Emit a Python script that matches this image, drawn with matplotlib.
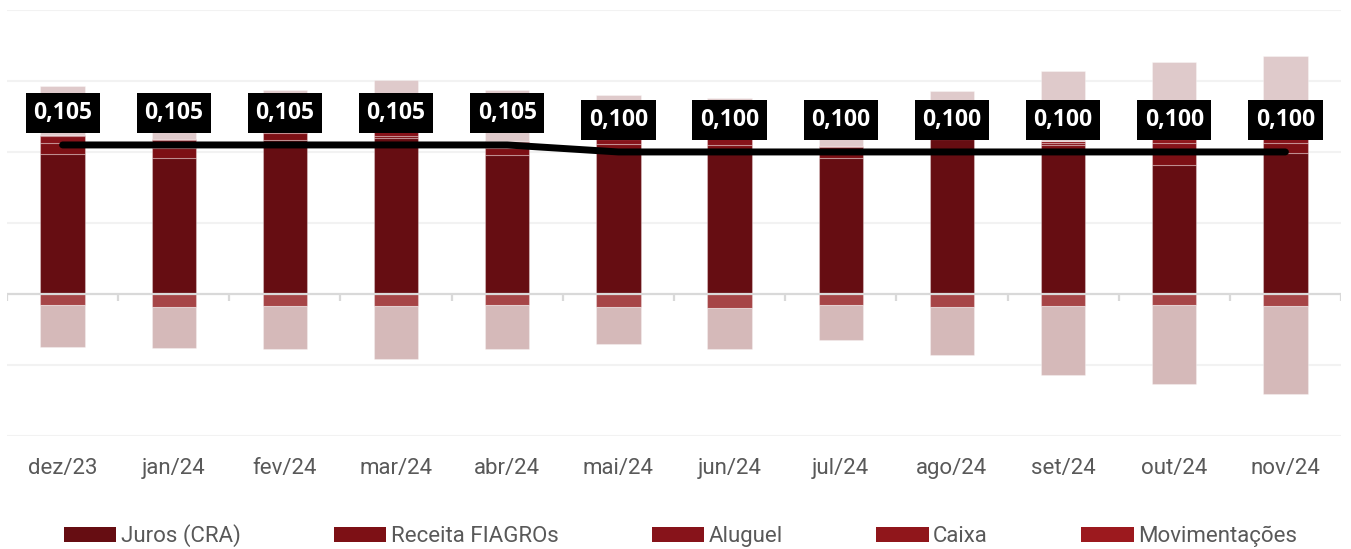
import matplotlib
matplotlib.use('Agg')
import matplotlib.pyplot as plt
from matplotlib.patches import Patch
import numpy as np

plt.rcParams['font.family'] = ['Roboto', 'DejaVu Sans']

months = ['dez/23', 'jan/24', 'fev/24', 'mar/24', 'abr/24', 'mai/24',
          'jun/24', 'jul/24', 'ago/24', 'set/24', 'out/24', 'nov/24']

# positive stack
juros = [1.97, 1.92, 2.17, 2.20, 1.96, 2.03, 2.03, 1.92, 2.18, 2.03, 1.82, 1.99]
receita_fiagros = [0.15, 0.14, 0.10, 0.03, 0.10, 0.08, 0.07, 0.15, 0.01, 0.07, 0.20, 0.13]
aluguel = [0.11, 0.11, 0.03, 0.07, 0.08, 0.07, 0.10, 0.00, 0.01, 0.03, 0.11, 0.08]
caixa = [0.01, 0.01, 0.01, 0.01, 0.01, 0.01, 0.01, 0.01, 0.01, 0.03, 0.05, 0.02]
movimentacoes = [0.00, 0.00, 0.00, 0.00, 0.00, 0.00, 0.00, 0.00, 0.00, 0.00, 0.00, 0.00]
outras_receitas = [0.69, 0.55, 0.56, 0.70, 0.72, 0.61, 0.55, 0.65, 0.65, 0.98, 1.09, 1.13]

# negative stack
despesa_1 = [-0.155, -0.183, -0.169, -0.169, -0.155, -0.183, -0.197, -0.155, -0.183, -0.169, -0.155, -0.169]
despesa_2 = [-0.59, -0.58, -0.61, -0.75, -0.62, -0.52, -0.58, -0.49, -0.68, -0.97, -1.11, -1.24]

# dividend line
dividendo = [0.105, 0.105, 0.105, 0.105, 0.105, 0.100, 0.100, 0.100, 0.100, 0.100, 0.100, 0.100]

W, H = 1351, 549
fig = plt.figure(figsize=(W / 100, H / 100), dpi=100)
ax = fig.add_axes([7 / W, 113 / H, 1334 / W, 426 / H])

x = np.arange(len(months))
w = 0.40
edge = (1, 1, 1, 0.3)

pos_series = [
    (juros, '#660d12', 'Juros (CRA)'),
    (receita_fiagros, '#7d1015', 'Receita FIAGROs'),
    (aluguel, '#87131a', 'Aluguel'),
    (caixa, '#90161b', 'Caixa'),
    (movimentacoes, '#9c191e', 'Movimentações'),
    (outras_receitas, '#dfcacb', None),
]
bottom = np.zeros(len(months))
for vals, color, label in pos_series:
    v = np.array(vals)
    ax.bar(x, v, w, bottom=bottom, color=color, edgecolor=edge, linewidth=0.8, zorder=3)
    bottom += v

neg_series = [
    (despesa_1, '#a64547'),
    (despesa_2, '#d5b9b9'),
]
bottom = np.zeros(len(months))
for vals, color in neg_series:
    v = np.array(vals)
    ax.bar(x, v, w, bottom=bottom, color=color, edgecolor=edge, linewidth=0.8, zorder=3)
    bottom += v

ax.set_xlim(-0.5, len(months) - 0.5)
ax.set_ylim(-2, 4)
for yv in [-2, -1, 1, 2, 3, 4]:
    ax.axhline(yv, color='#f2f2f2', lw=1.5, zorder=0)
ax.axhline(0, color='#d9d9d9', lw=1.6, zorder=4)
ax.vlines(np.arange(len(months) + 1) - 0.5, -0.1, 0, color='#d9d9d9', lw=1.6, zorder=4)

ax.set_xticks(x)
ax.set_xticklabels(months)
ax.tick_params(axis='x', length=0, pad=16, labelsize=16, labelcolor='#595959')
ax.set_yticks([])
for s in ax.spines.values():
    s.set_visible(False)

ax2 = ax.twinx()
ax2.set_ylim(-0.1029, 0.2014)
ax2.plot(x, dividendo, color='black', lw=5, solid_capstyle='round', zorder=5)
for xi, d in zip(x, dividendo):
    ax2.annotate(f'{d:.3f}'.replace('.', ','), (xi, d), xytext=(0, 23),
                 textcoords='offset points', ha='center', va='center',
                 fontsize=16.5, fontweight='bold', color='white',
                 family=['Open Sans', 'DejaVu Sans'],
                 bbox=dict(boxstyle='square,pad=0.33', fc='black', ec='none'),
                 zorder=6)
ax2.set_yticks([])
for s in ax2.spines.values():
    s.set_visible(False)

handles = [Patch(facecolor=c, label=l) for _, c, l in pos_series if l]
fig.legend(handles=handles, loc='center', bbox_to_anchor=(0.5 + 5 / W, 13 / H), ncol=5,
           frameon=False, fontsize=16, handlelength=2.36, handleheight=0.6,
           handletextpad=0.2, columnspacing=4.2, labelcolor='#595959',
           borderpad=0, borderaxespad=0)

fig.savefig('out.png', dpi=100)
